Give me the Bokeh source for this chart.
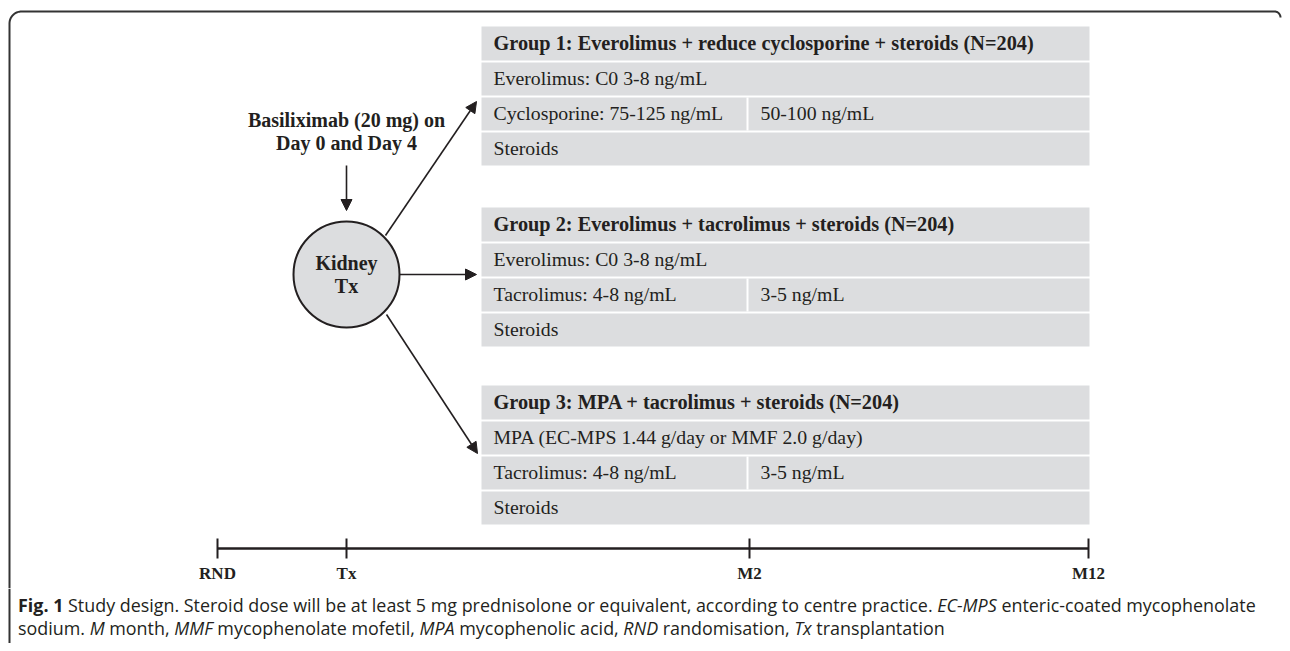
import numpy as np
from bokeh.plotting import figure
from bokeh.models import Range1d, Arrow, NormalHead, Div, ColumnDataSource
from bokeh.layouts import column, row
from bokeh.embed import file_html
from bokeh.resources import INLINE
from bokeh.core.properties import value

# ---------------- content ----------------
group_titles = [
    "Group 1: Everolimus + reduce cyclosporine + steroids (N=204)",
    "Group 2: Everolimus + tacrolimus + steroids (N=204)",
    "Group 3: MPA + tacrolimus + steroids (N=204)",
]
group_row1 = [
    "Everolimus: C0 3-8 ng/mL",
    "Everolimus: C0 3-8 ng/mL",
    "MPA (EC-MPS 1.44 g/day or MMF 2.0 g/day)",
]
group_row2_early = ["Cyclosporine: 75-125 ng/mL", "Tacrolimus: 4-8 ng/mL", "Tacrolimus: 4-8 ng/mL"]
group_row2_late = ["50-100 ng/mL", "3-5 ng/mL", "3-5 ng/mL"]
group_row3 = ["Steroids", "Steroids", "Steroids"]
timeline_labels = ["RND", "Tx", "M2", "M12"]
induction_text = ["Basiliximab (20 mg) on", "Day 0 and Day 4"]
centre_text = ["Kidney", "Tx"]
caption_html = (
    "<b>Fig. 1</b> Study design. Steroid dose will be at least 5 mg prednisolone or equivalent, "
    "according to centre practice. <i>EC-MPS</i> enteric-coated mycophenolate<br>"
    "sodium. <i>M</i> month, <i>MMF</i> mycophenolate mofetil, <i>MPA</i> mycophenolic acid, "
    "<i>RND</i> randomisation, <i>Tx</i> transplantation"
)

# ---------------- layout (page pixel coordinates) ----------------
INK = "#231f20"
FRAME = "#333333"
BOX = "#dcdddf"
SERIF = "Liberation Serif"
W, H_FIG, H_CAP = 1282, 588, 55
CAP_PAD = 18

BOX_L, BOX_R = 481, 1089
GROUP_TOPS = [26, 207, 385]
ROW_H = [34, 33, 33, 33]
GAP = 2
SPLIT_X = 747
TXT_X, TXT_X2 = 493, 760

CIRC_X, CIRC_Y, CIRC_R = 346, 274, 53
TIME_Y = 548
TIME_X = [217, 346, 749, 1088]


def blank_fig(w, h):
    f = figure(width=w, height=h, x_range=Range1d(0, w), y_range=Range1d(h, 0),
               x_axis_type=None, y_axis_type=None,
               output_backend="svg", toolbar_location=None, min_border=0)
    f.grid.visible = False
    f.outline_line_color = None
    f.background_fill_color = "white"
    f.border_fill_color = "white"
    return f


p = blank_fig(W, H_FIG)

# frame (rounded top-left and top-right corners)
r = 12
th = np.linspace(np.pi, 1.5 * np.pi, 20)
th2 = np.linspace(1.5 * np.pi, 2 * np.pi, 20)
r2 = 6
fx = [9] + list(9 + r + r * np.cos(th)) + list(W - 2 - r2 + r2 * np.cos(th2))
fy = [H_FIG] + list(11 + r + r * np.sin(th)) + list(11 + r2 + r2 * np.sin(th2))
p.line(fx, fy, line_color=FRAME, line_width=2)

# group boxes
for g in range(3):
    y = GROUP_TOPS[g]
    row_texts = [group_titles[g], group_row1[g], group_row2_early[g], group_row3[g]]
    lefts, rights, tops, bottoms, mids = [], [], [], [], []
    for h in ROW_H:
        lefts.append(BOX_L); rights.append(BOX_R)
        tops.append(y); bottoms.append(y + h)
        mids.append(y + h / 2)
        y = y + h + GAP
    p.quad(left=lefts, right=rights, top=tops, bottom=bottoms,
           fill_color=BOX, line_color=None)
    # white divider in dose row
    p.segment(x0=[SPLIT_X], y0=[tops[2]], x1=[SPLIT_X], y1=[bottoms[2]],
              line_color="white", line_width=2)
    p.text(x=[TXT_X], y=[mids[0] - 1], text=[row_texts[0]], text_font=value(SERIF),
           text_font_style="bold", text_font_size="20.3px", text_color=INK,
           text_align="left", text_baseline="middle")
    p.text(x=[TXT_X, TXT_X, TXT_X2, TXT_X], y=[mids[1] - 1, mids[2] - 1, mids[2] - 1, mids[3] - 1],
           text=[row_texts[1], row_texts[2], group_row2_late[g], row_texts[3]],
           text_font=value(SERIF), text_font_size="19.8px", text_color=INK,
           text_align="left", text_baseline="middle")

# induction text
p.text(x=[CIRC_X, CIRC_X], y=[119, 142], text=induction_text, text_font=value(SERIF),
       text_font_style="bold", text_font_size="20px", text_color=INK,
       text_align="center", text_baseline="middle")

# arrows
arr = ColumnDataSource(dict(
    x0=[CIRC_X, 385, CIRC_X + CIRC_R, 386],
    y0=[165, 235, CIRC_Y, 314],
    x1=[CIRC_X, 476, 476, 477],
    y1=[210, 101, CIRC_Y, 453],
))
p.add_layout(Arrow(end=NormalHead(size=11, fill_color=INK, line_color=INK, line_width=1),
                   x_start="x0", y_start="y0", x_end="x1", y_end="y1",
                   line_color=INK, line_width=1.6, source=arr))

# centre circle
p.circle(x=[CIRC_X], y=[CIRC_Y], radius=CIRC_R, fill_color=BOX, line_color=INK, line_width=2)
p.text(x=[CIRC_X, CIRC_X], y=[262, 285], text=centre_text, text_font=value(SERIF),
       text_font_style="bold", text_font_size="20px", text_color=INK,
       text_align="center", text_baseline="middle")

# timeline
p.segment(x0=[TIME_X[0]], y0=[TIME_Y], x1=[TIME_X[-1]], y1=[TIME_Y], line_color=INK, line_width=2.5)
p.segment(x0=TIME_X, y0=[TIME_Y - 10] * 4, x1=TIME_X, y1=[TIME_Y + 10] * 4,
          line_color=INK, line_width=2)
p.text(x=TIME_X, y=[573] * 4, text=timeline_labels, text_font=value(SERIF),
       text_font_style="bold", text_font_size="17px", text_color=INK,
       text_align="center", text_baseline="middle")

# continuation of the frame's left edge beside the caption
edge = blank_fig(CAP_PAD, H_CAP)
edge.line([9, 9], [0, H_CAP], line_color=FRAME, line_width=2)

cap_inner = (
    '<div style="padding-top:6px; font-family:\'Open Sans\', sans-serif; '
    'font-size:17.9px; line-height:23px; color:%s; white-space:nowrap;">%s</div>'
    % (INK, caption_html)
)
cap = Div(text=cap_inner, width=W - CAP_PAD, height=H_CAP, margin=0)

layout = column(p, row(edge, cap, spacing=0), spacing=0)
open("out.html", "w").write(file_html(layout, INLINE))
